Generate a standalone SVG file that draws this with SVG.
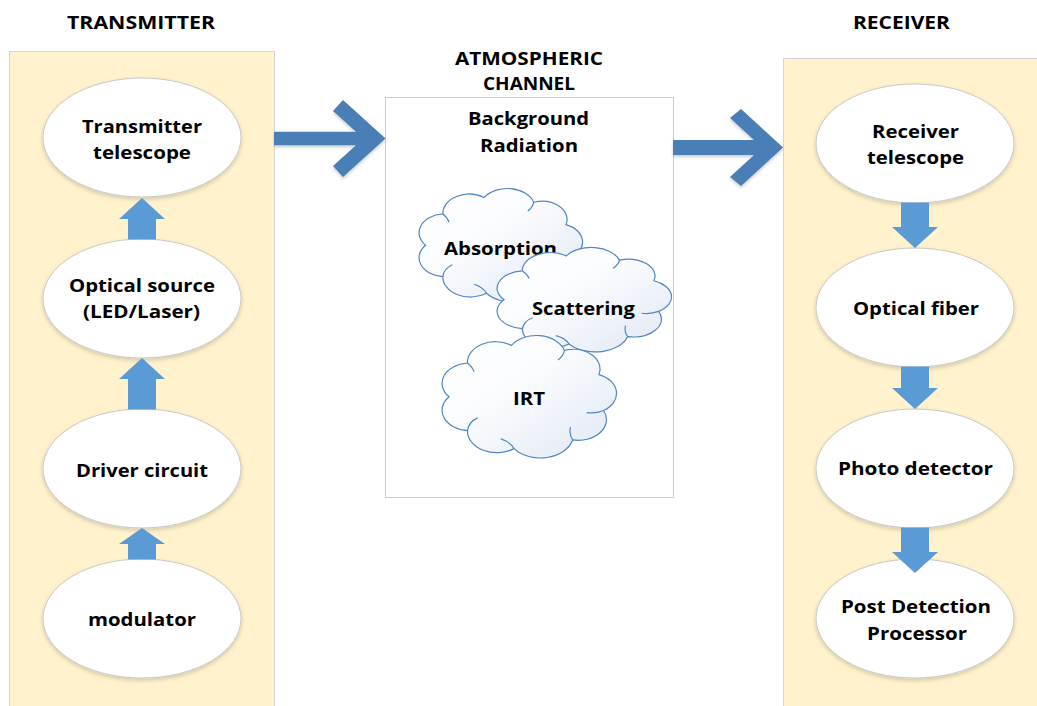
<svg xmlns="http://www.w3.org/2000/svg" width="1037" height="706" viewBox="0 0 1037 706">
<style>
.panel{fill:#fff2cc;stroke:#d6d6d6;stroke-width:1}
.box{fill:#ffffff;stroke:#c9ced6;stroke-width:1}
.node{fill:#ffffff;stroke:#c8c8c8;stroke-width:1;filter:url(#sh)}
.lbl{font-family:"Open Sans","Liberation Sans",sans-serif;font-weight:bold;font-size:18.5px;fill:#000;text-anchor:middle}
.hdr{font-family:"Open Sans","Liberation Sans",sans-serif;font-weight:bold;font-size:17px;fill:#000;text-anchor:middle}
.big{fill:#4a7eb6;filter:url(#sh2)}
.up{fill:#5b9bd5}
.cloud{fill:url(#cg);stroke:#4f86c4;stroke-width:1.2;vector-effect:non-scaling-stroke}
.inner{fill:none;stroke:#4f86c4;stroke-width:1.2;vector-effect:non-scaling-stroke}
</style>
<defs>
<filter id="sh" x="-10%" y="-10%" width="120%" height="130%">
<feDropShadow dx="0" dy="2" stdDeviation="2" flood-color="#000" flood-opacity="0.18"/>
</filter>
<filter id="sh2" x="-10%" y="-10%" width="120%" height="130%">
<feDropShadow dx="0" dy="2" stdDeviation="1.5" flood-color="#000" flood-opacity="0.2"/>
</filter>
<linearGradient id="cg" x1="0" y1="0" x2="1" y2="1">
<stop offset="0" stop-color="#ffffff"/>
<stop offset="0.4" stop-color="#fbfcfe"/>
<stop offset="1" stop-color="#e0e7f3"/>
</linearGradient>
<g id="cloudShape">
<path class="cloud" d="M6,50 A15.5,15.5 0 0 1 16.3,24.3 A15.7,15.7 0 0 1 40.9,10.9 A16.7,16.7 0 0 1 70.6,14.7 A15,15 0 0 1 89.9,33.1 A15.3,15.3 0 0 1 92.5,60.4 A15.8,15.8 0 0 1 75.2,82.8 A18.8,18.8 0 0 1 42.4,89.4 A16.5,16.5 0 0 1 16.3,75.7 A15.5,15.5 0 0 1 6,50 Z"/>
<path class="inner" d="M16.3,75.7 Q17,69 22,66 M16.3,24.3 Q19,27 20,31 M70.6,14.7 Q70,19 67,22 M92.5,60.4 Q88,63 83,62 M75.2,82.8 Q73,78 74,73 M42.4,89.4 Q40,84 35,82"/>
</g>
</defs>

<rect x="0" y="0" width="1037" height="706" fill="#ffffff"/>

<g id="transmitter">
<rect class="panel" x="9.5" y="51.5" width="265" height="670"/>
<text class="hdr" x="141" y="29" textLength="148" lengthAdjust="spacingAndGlyphs">TRANSMITTER</text>
</g>

<g id="channel">
<rect class="box" x="385.5" y="97.5" width="288" height="400"/>
<text class="hdr" x="529" y="65" textLength="148" lengthAdjust="spacingAndGlyphs">ATMOSPHERIC</text>
<text class="hdr" x="529" y="90" textLength="92" lengthAdjust="spacingAndGlyphs">CHANNEL</text>
<text class="lbl" x="528.5" y="125" textLength="121" lengthAdjust="spacingAndGlyphs">Background</text>
<text class="lbl" x="529" y="152" textLength="98" lengthAdjust="spacingAndGlyphs">Radiation</text>
</g>

<g id="receiver">
<rect class="panel" x="783.5" y="58.5" width="270" height="670"/>
<text class="hdr" x="901.5" y="29" textLength="97" lengthAdjust="spacingAndGlyphs">RECEIVER</text>
</g>

<g id="cloud-absorption">
<use href="#cloudShape" transform="translate(415.5,184.3) scale(1.675,1.219)"/>
<text class="lbl" x="500.5" y="255" textLength="113" lengthAdjust="spacingAndGlyphs">Absorption</text>
</g>
<g id="cloud-scattering">
<use href="#cloudShape" transform="translate(493.3,243.6) scale(1.787,1.123)"/>
<text class="lbl" x="583.5" y="315" textLength="103" lengthAdjust="spacingAndGlyphs">Scattering</text>
</g>
<g id="cloud-irt">
<use href="#cloudShape" transform="translate(438.3,331) scale(1.787,1.316)"/>
<text class="lbl" x="529" y="405" textLength="32" lengthAdjust="spacingAndGlyphs">IRT</text>
</g>

<g id="node-tx-telescope">
<ellipse class="node" cx="142" cy="137.5" rx="99" ry="59.5"/>
<text class="lbl" x="142" y="133" textLength="120" lengthAdjust="spacingAndGlyphs">Transmitter</text>
<text class="lbl" x="142" y="159" textLength="98" lengthAdjust="spacingAndGlyphs">telescope</text>
</g>
<g id="node-optical-source">
<ellipse class="node" cx="142" cy="298.5" rx="99" ry="59.5"/>
<text class="lbl" x="142" y="292" textLength="146" lengthAdjust="spacingAndGlyphs">Optical source</text>
<text class="lbl" x="141.5" y="318" textLength="117" lengthAdjust="spacingAndGlyphs">(LED/Laser)</text>
</g>
<g id="node-driver">
<ellipse class="node" cx="142" cy="468.5" rx="99" ry="59.5"/>
<text class="lbl" x="142" y="477" textLength="132" lengthAdjust="spacingAndGlyphs">Driver circuit</text>
</g>
<g id="node-modulator">
<ellipse class="node" cx="142" cy="618.5" rx="99" ry="59.5"/>
<text class="lbl" x="142" y="626" textLength="108" lengthAdjust="spacingAndGlyphs">modulator</text>
</g>

<g id="node-rx-telescope">
<ellipse class="node" cx="915" cy="143.5" rx="99" ry="59.5"/>
<text class="lbl" x="915.5" y="138" textLength="87" lengthAdjust="spacingAndGlyphs">Receiver</text>
<text class="lbl" x="915.5" y="164" textLength="97" lengthAdjust="spacingAndGlyphs">telescope</text>
</g>
<g id="node-optical-fiber">
<ellipse class="node" cx="915" cy="307.5" rx="99" ry="59.5"/>
<text class="lbl" x="916" y="315" textLength="126" lengthAdjust="spacingAndGlyphs">Optical fiber</text>
</g>
<g id="node-photo-detector">
<ellipse class="node" cx="915" cy="468.5" rx="99" ry="59.5"/>
<text class="lbl" x="915.5" y="475" textLength="155" lengthAdjust="spacingAndGlyphs">Photo detector</text>
</g>
<g id="node-post-detection">
<ellipse class="node" cx="915" cy="618.5" rx="99" ry="59.5"/>
<text class="lbl" x="916" y="613" textLength="150" lengthAdjust="spacingAndGlyphs">Post Detection</text>
<text class="lbl" x="917" y="640" textLength="100" lengthAdjust="spacingAndGlyphs">Processor</text>
</g>

<g id="connectors">
<polygon class="big" points="274,131.7 356,131.7 333,111 343,100 385.5,138.5 343,177 333,166 356,145.3 274,145.3"/>
<polygon class="big" points="673,140 754,140 730,118 741,109 783,147.5 741,186 730,177 754,155 673,155"/>
<polygon class="up" points="142,198 165,219 156,219 156,239.5 128,239.5 128,219 119,219"/>
<polygon class="up" points="142,358 165,379 156,379 156,409.5 128,409.5 128,379 119,379"/>
<polygon class="up" points="142,528 165,544 156,544 156,559.5 128,559.5 128,544 119,544"/>
<polygon class="up" points="901,202.5 929,202.5 929,227 938,227 915,248 892,227 901,227"/>
<polygon class="up" points="901,366.5 929,366.5 929,388 938,388 915,409 892,388 901,388"/>
<polygon class="up" points="901,527.5 929,527.5 929,552 938,552 915,573 892,552 901,552"/>
</g>
</svg>
